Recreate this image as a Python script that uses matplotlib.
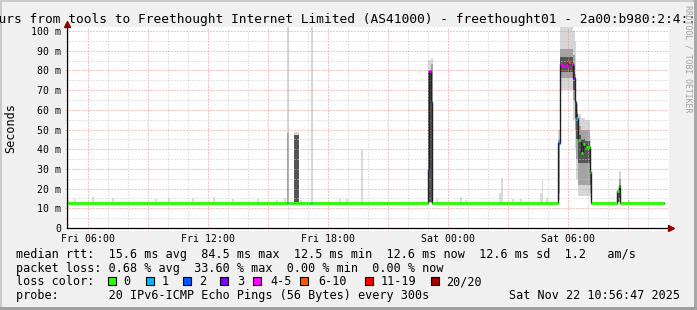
import matplotlib
matplotlib.use("Agg")
import matplotlib.pyplot as plt
from matplotlib.patches import Rectangle
import numpy as np

W, H = 697, 310
plt.rcParams['font.family'] = ['DejaVu Sans Mono']

# hours since Fri 00:00
t_start = 4.95
t_end = 34.80
bin_h = 5 / 60
base_rtt = 12.6  # ms

loss_labels = ['0', '1', '2', '3', '4-5', '6-10', '11-19', '20/20']
loss_colors = ['#26ff00', '#00b8ff', '#0059ff', '#7e00ff', '#ff00ff',
               '#ff5500', '#ff0000', '#a10000']

# small smoke bumps above the baseline (hour, top ms)
bump_t = [5.30, 6.20, 7.20, 9.35, 10.00, 11.20, 12.25, 13.20, 14.45, 15.40,
          15.80, 16.60, 18.55, 18.90, 19.65, 23.40, 24.60, 24.85, 26.565, 26.65,
          27.20, 27.60, 28.60, 28.685, 28.90, 33.00]
bump_hi = [14.6, 15.9, 15.1, 14.5, 14.5, 15.0, 15.5, 14.5, 14.5, 14.2,
           15.0, 14.3, 14.6, 14.6, 39.6, 14.5, 15.5, 14.4, 18.0, 25.4,
           14.8, 14.5, 18.0, 25.0, 15.0, 14.0]

# bins that stand out from the baseline
nan = np.nan
ev_t = [15.935, 16.285, 16.37, 16.45, 17.135,
        22.975, 23.06, 23.14,
        29.50, 29.583, 29.667, 29.75, 29.833, 29.917, 30.00, 30.083, 30.167,
        30.25, 30.333, 30.417, 30.50, 30.583, 30.667, 30.75, 30.833, 30.917,
        31.00, 31.083,
        32.45, 32.535]
ev_med = [12.6, 12.6, 12.6, 12.6, 12.6,
          29.5, 79.5, 64.0,
          43.0, 83.0, 82.5, 82.2, 82.2, 82.5, 84.5, 84.2, 83.5,
          76.0, 64.0, 55.7, 44.7, 44.5, 37.9, 42.6, 40.5, 41.0,
          41.0, 28.6,
          19.0, 21.2]
ev_loss = [1, 0, 0, 0, 1,
           2, 4, 2,
           2, 4, 4, 4, 4, 4, 5, 5, 4,
           3, 2, 1, 0, 0, 0, 0, 0, 0,
           0, 0,
           0, 0]
light_lo = [12.6, 12.6, 12.6, 12.6, 12.6,
            12.6, 12.6, 12.6,
            14, 70, 70, 70, 70, 70, 70, 70, 70,
            55, 40, 25, 16, 16, 16, 16, 16, 16,
            16, 15,
            13, 13]
light_hi = [105, 48.5, 48.5, 48.5, 105,
            85.5, 85.5, 86.5,
            50, 103, 103, 103, 103, 103, 103, 103, 103,
            100, 95, 63, 58, 58, 56, 56, 55, 55,
            55, 45,
            20, 29]
mid_lo = [12.6, nan, nan, nan, nan,
          nan, nan, 63,
          18, 76, 76, 76, 76, 76, 76, 76, 76,
          65, 50, 35, 22, 22, 22, 22, 22, 22,
          22, 18,
          nan, 13]
mid_hi = [48, nan, nan, nan, nan,
          nan, nan, 83,
          45, 91, 91, 91, 91, 91, 91, 91, 91,
          88, 78, 60, 52, 52, 50, 50, 50, 50,
          50, 38,
          nan, 25]
dark_lo = [nan, 13, 13, 13, nan,
           13, 13, 13,
           nan, 79, 79, 79, 79, 79, 79, 79, 79,
           70, 56, 45, 33, 33, 33, 33, 33, 33,
           33, 22,
           13, 15]
dark_hi = [nan, 47, 47, 47, nan,
           79.5, 79.5, 63.5,
           nan, 87, 87, 87, 87, 87, 87, 87, 87,
           82, 70, 58, 47, 47, 45, 45, 44, 44,
           44, 32,
           19, 22]

title = ("Last 30 Hours from tools to Freethought Internet Limited (AS41000)"
         " - freethought01 - 2a00:b980:2:4::1")
x_ticks = [6, 12, 18, 24, 30]
x_tick_labels = ['Fri 06:00', 'Fri 12:00', 'Fri 18:00', 'Sat 00:00', 'Sat 06:00']
stats_rtt = "median rtt:  15.6 ms avg  84.5 ms max  12.5 ms min  12.6 ms now  12.6 ms sd  1.2   am/s"
stats_loss = "packet loss: 0.68 % avg  33.60 % max  0.00 % min  0.00 % now"
probe_text = "probe:       20 IPv6-ICMP Echo Pings (56 Bytes) every 300s"
stamp = "Sat Nov 22 10:56:47 2025"


def fx(x):
    return x / W


def fy(y):
    return 1 - y / H


fig = plt.figure(figsize=(W / 100, H / 100), dpi=100, facecolor='#f0f0f0')

# frame shading
fig.add_artist(Rectangle((0, 0), fx(2), 1, transform=fig.transFigure, color='#cbcbcb', lw=0))
fig.add_artist(Rectangle((0, fy(2)), 1, 2 / H, transform=fig.transFigure, color='#cbcbcb', lw=0))
fig.add_artist(Rectangle((fx(694), 0), 3 / W, 1, transform=fig.transFigure, color='#a8a8a8', lw=0))
fig.add_artist(Rectangle((0, 0), 1, 3 / H, transform=fig.transFigure, color='#a0a0a0', lw=0))

# plot canvas: 0 ms at y=228 px, 100 ms at y=31 px; 20 px per hour, 06:00 at x=88
px_ms = 1.97
ax = fig.add_axes([fx(66), fy(231), (669 - 66) / W, (231 - 27) / H])
ax.set_facecolor('white')
ax.set_xlim(6 - (88 - 66) / 20, 6 + (669 - 88) / 20)
ax.set_ylim(-3 / px_ms, (228 - 27) / px_ms)
for s in ax.spines.values():
    s.set_visible(False)

# grid
ax.set_xticks(np.arange(6, 35, 3))
ax.set_xticklabels([x_tick_labels[x_ticks.index(h)] if h in x_ticks else ''
                    for h in range(6, 35, 3)])
ax.set_xticks(np.arange(5, 35, 1), minor=True)
ax.set_yticks(np.arange(0, 101, 10))
ax.set_yticklabels(['0'] + ['%d m' % v for v in range(10, 101, 10)])
ax.set_yticks(np.arange(5, 100, 10), minor=True)
ax.grid(which='minor', color='#c8c8c8', lw=0.72, ls=(0, (1, 2)), zorder=2)
ax.grid(which='major', color='#e88a8a', lw=0.72, ls=(0, (1, 2)), zorder=2)
ax.set_axisbelow(False)
ax.tick_params(which='both', length=0, labelsize=7.1)
ax.tick_params(axis='y', pad=3.6)
ax.tick_params(axis='x', pad=1.8)

# smoke
bw = bin_h * 1.08
ax.bar(bump_t, np.array(bump_hi) - base_rtt, bottom=base_rtt, width=bw,
       align='edge', color='#dadada', lw=0, zorder=1)
ev_t_a = np.array(ev_t)
for lo, hi, col in [(light_lo, light_hi, '#d6d6d6'),
                    (mid_lo, mid_hi, '#a4a4a4'),
                    (dark_lo, dark_hi, '#555555')]:
    lo = np.array(lo, float)
    hi = np.array(hi, float)
    ok = ~np.isnan(lo)
    ax.bar(ev_t_a[ok], hi[ok] - lo[ok], bottom=lo[ok], width=bw,
           align='edge', color=col, lw=0, zorder=1)

# median segments: baseline between the listed bins
seg_t0, seg_t1, seg_v, seg_c = [], [], [], []
cur = t_start
for i, t in enumerate(ev_t):
    if t > cur + 0.01:
        seg_t0.append(cur); seg_t1.append(t); seg_v.append(base_rtt); seg_c.append(0)
    if i + 1 < len(ev_t) and ev_t[i + 1] < t + bin_h + 0.01:
        end = ev_t[i + 1]
    else:
        end = t + bin_h
    seg_t0.append(t); seg_t1.append(end); seg_v.append(ev_med[i]); seg_c.append(ev_loss[i])
    cur = end
seg_t0.append(cur); seg_t1.append(t_end); seg_v.append(base_rtt); seg_c.append(0)

ax.step(seg_t0 + [t_end], seg_v + [base_rtt], where='post', color='#202020',
        lw=1.0, zorder=3)
ax.hlines(seg_v, seg_t0, seg_t1, colors=[loss_colors[c] for c in seg_c],
          lw=2.0, zorder=4, capstyle='butt')

# axes with arrows
x_axis = 6 + (66.6 - 88) / 20
ax.plot([x_axis, x_axis], [0, (228 - 24) / px_ms], color='black', lw=0.9,
        clip_on=False, zorder=5)
ax.plot([x_axis], [(228 - 23.5) / px_ms], marker='^', ms=4.5, color='#8b0000',
        clip_on=False, zorder=6, mec='#8b0000')
ax.plot([x_axis, 6 + (670 - 88) / 20], [0, 0], color='black', lw=0.9,
        clip_on=False, zorder=5)
ax.plot([6 + (671 - 88) / 20], [0], marker='>', ms=4.5, color='#8b0000',
        clip_on=False, zorder=6, mec='#8b0000')

# texts
fig.text(fx(-78.8), fy(23), title, fontsize=9.3, va='baseline', ha='left')
fig.text(fx(11), fy(128), 'Seconds', rotation=90, fontsize=8.5, ha='center', va='center')
fig.text(fx(688), fy(5), 'RRDTOOL / TOBI OETIKER', rotation=270, fontsize=5.9,
         color='#a0a0a0', ha='center', va='top')
fig.text(fx(16), fy(257.7), stats_rtt, fontsize=8.5, va='baseline')
fig.text(fx(16), fy(271.7), stats_loss, fontsize=8.5, va='baseline')
fig.text(fx(16), fy(285.3), 'loss color:', fontsize=8.5, va='baseline')
fig.text(fx(16), fy(299.3), probe_text, fontsize=8.5, va='baseline')
fig.text(fx(680), fy(299.3), stamp, fontsize=8.5, va='baseline', ha='right')

box_x = [108.3, 145.7, 182.7, 220.0, 252.7, 300.0, 365.0, 430.7]
lab_x = [123.0, 161.7, 199.3, 236.7, 270.7, 318.3, 380.7, 446.0]
for bx, lx, lab, col in zip(box_x, lab_x, loss_labels, loss_colors):
    fig.add_artist(Rectangle((fx(bx), fy(285.3)), 8 / W, 8 / H,
                             transform=fig.transFigure, facecolor=col,
                             edgecolor='black', lw=0.8))
    fig.text(fx(lx), fy(285.3), lab, fontsize=8.5, va='baseline')

fig.savefig('out.png', dpi=100, facecolor=fig.get_facecolor())
